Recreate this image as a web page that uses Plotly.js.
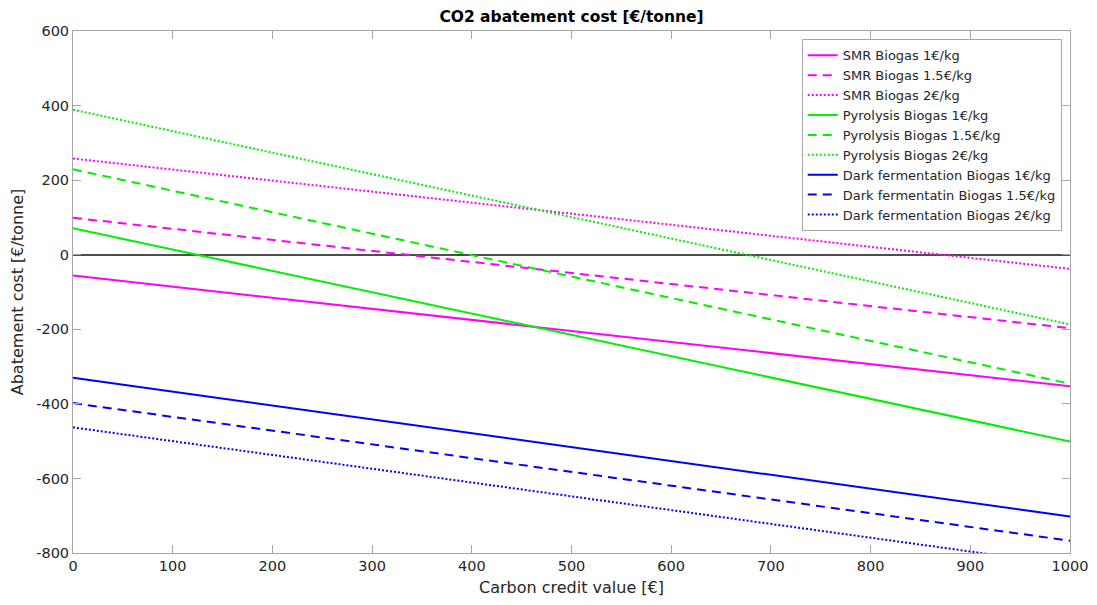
<!DOCTYPE html>
<html>
<head>
<meta charset="utf-8">
<script src="https://cdn.plot.ly/plotly-3.0.1.min.js"></script>
<style>html,body{margin:0;padding:0;background:#fff;}#chart{width:1097px;height:605px;}</style>
</head>
<body>
<div id="chart"></div>
<script>
// Carbon credit value [€] (line end points)
const creditValue = [0, 1000];

const smrBiogas1 = [-56, -353];
const smrBiogas15 = [99, -197];
const smrBiogas2 = [258, -38];
const pyrolysisBiogas1 = [71, -501];
const pyrolysisBiogas15 = [229, -346];
const pyrolysisBiogas2 = [389, -187];
const darkFermBiogas1 = [-330, -702];
const darkFermBiogas15 = [-398, -767];
const darkFermBiogas2 = [-463, -833];

const seriesNames = [
  'SMR Biogas 1€/kg', 'SMR Biogas 1.5€/kg', 'SMR Biogas 2€/kg',
  'Pyrolysis Biogas 1€/kg', 'Pyrolysis Biogas 1.5€/kg', 'Pyrolysis Biogas 2€/kg',
  'Dark fermentation Biogas 1€/kg', 'Dark fermentatin Biogas 1.5€/kg', 'Dark fermentation Biogas 2€/kg'
];
const seriesValues = [smrBiogas1, smrBiogas15, smrBiogas2, pyrolysisBiogas1, pyrolysisBiogas15, pyrolysisBiogas2, darkFermBiogas1, darkFermBiogas15, darkFermBiogas2];

const xTicks = [0, 100, 200, 300, 400, 500, 600, 700, 800, 900, 1000];
const yTicks = [-800, -600, -400, -200, 0, 200, 400, 600];

const colors = ['#ff00ff', '#ff00ff', '#ff00ff', '#00f000', '#00f000', '#00f000', '#0000ff', '#0000ff', '#0000ff'];
const dashes = ['solid', '9px,6px', '2px,2px', 'solid', '9px,6px', '2px,2px', 'solid', '9px,6px', '2px,2px'];

const FONT = '"DejaVu Sans", Verdana, sans-serif';

const traces = seriesNames.map((n, i) => ({
  type: 'scatter', mode: 'lines', name: n,
  x: creditValue, y: seriesValues[i],
  line: {color: colors[i], width: 2, dash: dashes[i]},
  hoverinfo: 'skip'
}));

const axisCommon = {
  showgrid: false, showline: true, linecolor: '#a6a6a6', linewidth: 1,
  mirror: 'ticks', ticks: 'inside', ticklen: 8, tickcolor: '#a6a6a6', tickwidth: 1,
  tickfont: {family: FONT, size: 14.5, color: '#262626'},
  fixedrange: true
};

const layout = {
  width: 1097, height: 605,
  margin: {l: 73, r: 27, t: 31, b: 52},
  paper_bgcolor: '#fff', plot_bgcolor: '#fff',
  font: {family: FONT, color: '#262626'},
  title: {text: '<b>CO2 abatement cost [€/tonne]</b>', font: {family: FONT, size: 15.5, color: '#000'}, x: 0.521, xanchor: 'center', y: 0.972, yanchor: 'middle'},
  xaxis: Object.assign({}, axisCommon, {
    range: [0, 1000], tickvals: xTicks, ticktext: xTicks.map(String), zeroline: false,
    title: {text: 'Carbon credit value [€]', font: {family: FONT, size: 16, color: '#262626'}, standoff: 8}
  }),
  yaxis: Object.assign({}, axisCommon, {
    range: [-800, 600], tickvals: yTicks, ticktext: yTicks.map(String),
    zeroline: true, zerolinecolor: '#4d4d4d', zerolinewidth: 2,
    title: {text: 'Abatement cost [€/tonne]', font: {family: FONT, size: 16, color: '#262626'}, standoff: 8}
  }),
  legend: {
    x: 0.9917, xanchor: 'right', y: 0.984, yanchor: 'top',
    bgcolor: '#fff', bordercolor: '#a6a6a6', borderwidth: 1,
    font: {family: FONT, size: 13, color: '#262626'},
    tracegroupgap: 0, itemwidth: 30
  },
  showlegend: true
};

Plotly.newPlot('chart', traces, layout, {staticPlot: true, displayModeBar: false});
</script>
</body>
</html>
